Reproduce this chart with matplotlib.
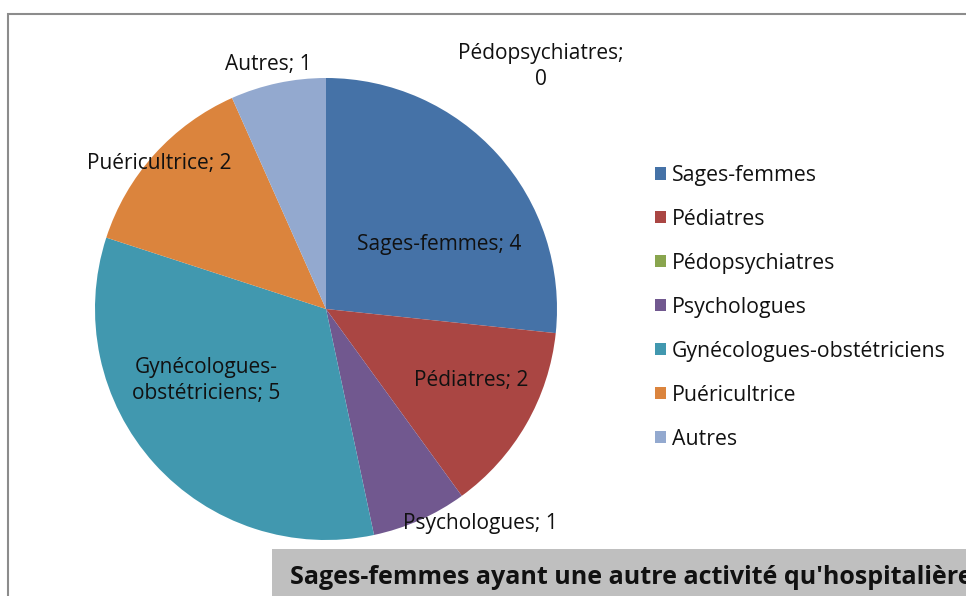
import matplotlib.pyplot as plt
from matplotlib.patches import Rectangle

plt.rcParams['font.family'] = ['Open Sans', 'DejaVu Sans']

categories = ['Sages-femmes', 'Pédiatres', 'Pédopsychiatres', 'Psychologues',
              'Gynécologues-obstétriciens', 'Puéricultrice', 'Autres']
values = [4, 2, 0, 1, 5, 2, 1]
colors = ['#4572A7', '#AA4643', '#89A54E', '#71588F', '#4198AF', '#DB843D', '#93A9CF']
title = "Sages-femmes ayant une autre activité qu'hospitalière"

# label positions (pie radius = 1)
label_pos = [(0.49, 0.28), (0.63, -0.31), (0.93, 1.05), (0.67, -0.93),
             (-0.52, -0.31), (-0.72, 0.63), (-0.25, 1.06)]
label_text = ['Sages-femmes; 4', 'Pédiatres; 2', 'Pédopsychiatres;\n0', 'Psychologues; 1',
              'Gynécologues-\nobstétriciens; 5', 'Puéricultrice; 2', 'Autres; 1']

W, H = 966, 596
fig = plt.figure(figsize=(W / 100, H / 100), dpi=100)

# chart border
fig.patches.append(Rectangle((8 / W, -0.1), 1.2, (H - 14) / H + 0.1, transform=fig.transFigure,
                             fill=False, edgecolor='#8c8c8c', linewidth=1.5))

cx, cy, r = 326, 309, 231
half = 300
ax = fig.add_axes([(cx - half) / W, (H - cy - half) / H, 2 * half / W, 2 * half / H])
wedges, _ = ax.pie(values, colors=colors, startangle=90, counterclock=False, radius=1)
ax.set_xlim(-half / r, half / r)
ax.set_ylim(-half / r, half / r)
ax.axis('off')

for (x, y), t in zip(label_pos, label_text):
    ax.text(x, y, t, ha='center', va='center', fontsize=15, color='#111111', linespacing=1.3)

leg = fig.legend(wedges, categories, loc='upper left', bbox_to_anchor=(655 / W, (H - 165) / H),
                 frameon=False, fontsize=15.3, handlelength=0.5, handleheight=0.5,
                 handletextpad=0.3, labelspacing=1.08, borderpad=0, borderaxespad=0)
for t in leg.get_texts():
    t.set_color('#111111')

# title box
fig.patches.append(Rectangle((272 / W, -0.05), 1, (H - 549) / H + 0.05, transform=fig.transFigure,
                             facecolor='#bfbfbf', edgecolor='none'))
fig.text(290 / W, (H - 578) / H, title, fontsize=18, fontweight='bold', ha='left', va='center',
         color='#111111')

fig.savefig('out.png', dpi=100)
